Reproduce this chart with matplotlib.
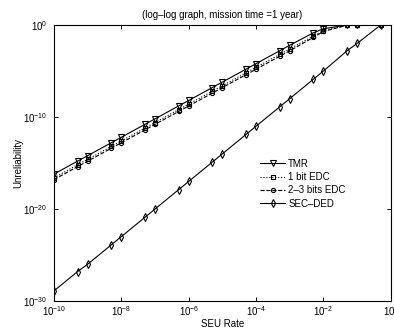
import numpy as np
import matplotlib
matplotlib.use("Agg")
import matplotlib.pyplot as plt

plt.rcParams['font.family'] = ['Liberation Sans', 'DejaVu Sans']
plt.rcParams['mathtext.fontset'] = 'custom'
plt.rcParams['mathtext.rm'] = 'Liberation Sans'
plt.rcParams['mathtext.it'] = 'Liberation Sans:italic'
plt.rcParams['mathtext.default'] = 'rm'

# SEU rate points
seu_rate = [1e-10, 5e-10, 1e-9, 5e-9, 1e-8, 5e-8, 1e-7, 5e-7, 1e-6, 5e-6,
            1e-5, 5e-5, 1e-4, 5e-4, 1e-3, 5e-3, 1e-2, 5e-2, 1e-1, 5e-1]

# log10 of unreliability
tmr_log = [-16.2, -14.8, -14.2, -12.8, -12.2, -10.8, -10.2, -8.8, -8.2, -6.8,
           -6.2, -4.8, -4.2, -2.8, -2.2, -0.85, -0.4, 0.0, 0.0, 0.0]
edc1_log = [-16.6, -15.2, -14.6, -13.2, -12.6, -11.2, -10.6, -9.2, -8.6, -7.2,
            -6.6, -5.2, -4.6, -3.2, -2.6, -1.2, -0.6, -0.02, 0.0, 0.0]
edc23_log = [-16.8, -15.4, -14.8, -13.4, -12.8, -11.4, -10.8, -9.4, -8.8, -7.4,
             -6.8, -5.4, -4.8, -3.4, -2.8, -1.35, -0.7, -0.03, 0.0, 0.0]
secded_log = [-28.9, -26.8, -26.0, -23.9, -23.0, -20.9, -20.0, -17.9, -17.0, -14.9,
              -14.0, -11.9, -11.0, -8.9, -8.0, -5.9, -5.0, -2.8, -2.0, 0.0]

xticks = [1e-10, 1e-8, 1e-6, 1e-4, 1e-2, 1]
xticklabels = [r'$10^{-10}$', r'$10^{-8}$', r'$10^{-6}$', r'$10^{-4}$', r'$10^{-2}$', r'$10^{0}$']
yticks = [1e-30, 1e-20, 1e-10, 1]
yticklabels = [r'$10^{-30}$', r'$10^{-20}$', r'$10^{-10}$', r'$10^{0}$']

fig = plt.figure(figsize=(3.94, 3.29), dpi=100)
ax = fig.add_axes([0.137, 0.085, 0.855, 0.839])

mk = dict(color='black', lw=0.8, markersize=4, markerfacecolor='none',
          markeredgecolor='black', markeredgewidth=0.8)
ax.loglog(seu_rate, 10.0 ** np.array(tmr_log), '-', marker='v', label='TMR', **mk)
ax.loglog(seu_rate, 10.0 ** np.array(edc1_log), ':', marker='s', label='1 bit EDC',
          **dict(mk, markersize=3.5))
ax.loglog(seu_rate, 10.0 ** np.array(edc23_log), '--', marker='o', label='2\u20133 bits EDC',
          **dict(mk, markersize=3))
ax.loglog(seu_rate, 10.0 ** np.array(secded_log), '-', marker='d', label='SEC\u2013DED', **mk)

ax.set_xlim(1e-10, 1)
ax.set_ylim(1e-30, 1)
ax.set_xticks(xticks)
ax.set_xticklabels(xticklabels)
ax.set_yticks(yticks)
ax.set_yticklabels(yticklabels)
ax.minorticks_off()
ax.tick_params(direction='in', top=True, right=True, labelsize=7, length=3, width=0.7)
ax.tick_params(axis='x', pad=2.5)
ax.tick_params(axis='y', pad=5)
for s in ax.spines.values():
    s.set_linewidth(0.8)

ax.set_title('(log\u2013log graph, mission time =1 year)', fontsize=7, pad=5)
ax.set_xlabel('SEU Rate', fontsize=7, labelpad=0.5)
ax.set_ylabel('Unreliability', fontsize=7, labelpad=0)

ax.legend(loc='upper left', bbox_to_anchor=(0.6, 0.53), frameon=False, fontsize=7,
          handlelength=2.6, handletextpad=0.3, labelspacing=0.35, borderaxespad=0)

fig.savefig('out.png', dpi=100)
